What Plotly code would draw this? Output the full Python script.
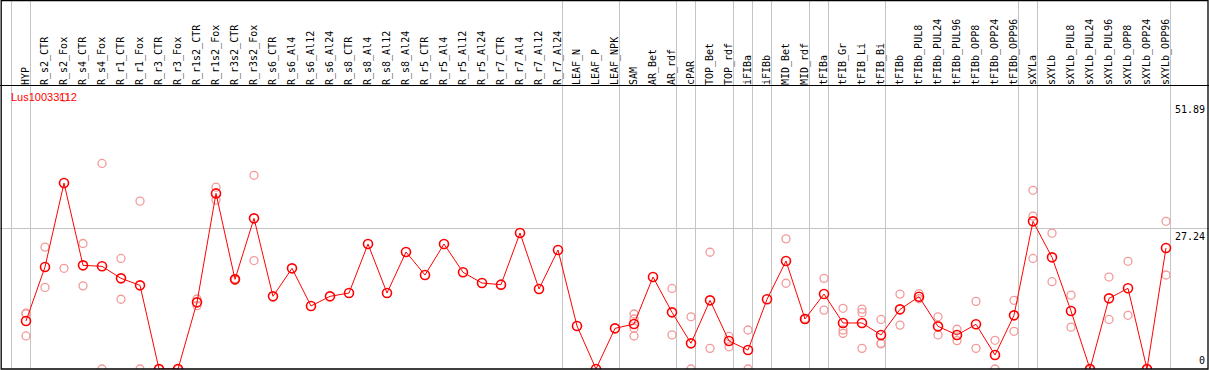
import plotly.graph_objects as go

W, H = 1209, 370

categories = [
    "HYP", "R_s2_CTR", "R_s2_Fox", "R_s4_CTR", "R_s4_Fox", "R_r1_CTR", "R_r1_Fox",
    "R_r3_CTR", "R_r3_Fox", "R_r1s2_CTR", "R_r1s2_Fox", "R_r3s2_CTR", "R_r3s2_Fox",
    "R_s6_CTR", "R_s6_Al4", "R_s6_Al12", "R_s6_Al24", "R_s8_CTR", "R_s8_Al4",
    "R_s8_Al12", "R_s8_Al24", "R_r5_CTR", "R_r5_Al4", "R_r5_Al12", "R_r5_Al24",
    "R_r7_CTR", "R_r7_Al4", "R_r7_Al12", "R_r7_Al24", "LEAF_N", "LEAF_P", "LEAF_NPK",
    "SAM", "AR_Bet", "AR_rdf", "cPAR", "TOP_Bet", "TOP_rdf", "iFIBa", "iFIBb",
    "MID_Bet", "MID_rdf", "tFIBa", "tFIB_Gr", "tFIB_Li", "tFIB_Bi", "tFIBb",
    "tFIBb_PUL8", "tFIBb_PUL24", "tFIBb_PUL96", "tFIBb_OPP8", "tFIBb_OPP24",
    "tFIBb_OPP96", "sXYLa", "sXYLb", "sXYLb_PUL8", "sXYLb_PUL24", "sXYLb_PUL96",
    "sXYLb_OPP8", "sXYLb_OPP24", "sXYLb_OPP96",
]

# group sizes (gray separators between groups)
group_sizes = [1, 28, 3, 3, 1, 2, 1, 1, 2, 1, 3, 7, 1, 7]

mean_values = [
    9.29, 19.75, 36.0, 20.07, 19.88, 17.55, 16.2, 0, 0, 12.9, 34.0, 17.36, 29.17,
    14.07, 19.49, 12.2, 14.07, 14.71, 24.2, 14.71, 22.65, 18.2, 24.2, 18.72, 16.65,
    16.33, 26.33, 15.49, 23.04, 8.33, 0, 7.87,
    8.71, 17.81, 10.97, 4.97, 13.29, 5.42, 3.68, 13.49, 20.91, 9.68, 14.52, 8.91,
    8.91, 6.58, 11.55, 14.0, 8.26, 6.58, 8.65, 2.71, 10.39, 28.59, 21.62, 11.23,
    0, 13.68, 15.62, 0, 23.43,
]

N = None
rep_a = [10.8, 23.6, 52.6, 24.3, 39.8, 21.4, 32.5, 0, 0, 13.55, 35.2, 17.5, 37.5,
         N, N, N, N, N, N, N, N, N, N, N, N, N, N, N, N, N, N, N,
         10.65, N, 15.6, 10.1, 22.6, 6.3, 7.55, N, 25.2, 9.8, 17.55, 11.75, 11.6,
         9.6, 14.5, 14.6, 10.1, 7.7, 13.1, 5.55, 13.3, 34.6, 26.3, 14.3, 0, 17.8,
         20.85, 0, 28.6]
rep_b = [10.7, 15.8, 19.5, 16.1, 0, 13.5, 0, 0, 0, 12.26, 32.7, 17.2, 21.0,
         N, N, N, N, N, N, N, N, N, N, N, N, N, N, N, N, N, N, N,
         9.68, N, 6.6, 0, 4.0, 4.3, 0, N, 16.6, 9.6, 11.4, 7.55, 10.9,
         5.0, 8.5, 13.6, 6.6, 5.5, 4.0, 0, 7.3, 29.6, 16.9, 8.1, 0, 9.6,
         10.4, 0, 18.2]
rep_c = [6.4, N, N, N, N, N, N, N, N, N, N, N, N,
         N, N, N, N, N, N, N, N, N, N, N, N, N, N, N, N, N, N, N,
         7.88, N, N, N, N, N, N, N, N, N, N, 6.9, 4.0,
         4.85, N, N, N, N, N, N, N, 21.4, N, N, N, N,
         N, N, N]
rep_d = [N] * 32 + [6.39] + [N] * 28

y_tick_values = [0, 27.24, 51.89]
y_tick_labels = ["0", "27.24", "51.89"]
gene_name = "Lus10033112"

# ---- geometry (pixel layout of the reference) ----
X0_PX, DX_PX = 26.0, 19.0          # first category centre and spacing
TOP_M, BOT_M = 86, 1               # header height and bottom margin
PX_PER_UNIT = 5.165
plot_h = H - TOP_M - BOT_M
x_range = [(0 - X0_PX) / DX_PX, (W - X0_PX) / DX_PX]
y_range = [0, plot_h / PX_PER_UNIT]


def py(ypx):  # pixel y (from top) -> paper y
    return (H - BOT_M - ypx) / plot_h


mono = "DejaVu Sans Mono"
grid_col = "#c4c4c4"
red = "#ff0000"
light = "#f19a9a"

xs = list(range(len(categories)))
fig = go.Figure()

for reps in (rep_a, rep_b, rep_c, rep_d):
    fig.add_trace(go.Scatter(
        x=xs, y=reps, mode="markers",
        marker=dict(symbol="circle-open", size=8, color=light, line=dict(width=1.3, color=light)),
        hoverinfo="skip", showlegend=False,
    ))

fig.add_trace(go.Scatter(
    x=xs, y=mean_values, mode="lines+markers",
    line=dict(color=red, width=1),
    marker=dict(symbol="circle-open", size=9, color=red, line=dict(width=1.6, color=red)),
    showlegend=False,
))

shapes = []
# group separators
bounds = [-1]
acc = -1
for g in group_sizes:
    acc += g
    bounds.append(acc)
off = 4.5 / DX_PX
for b in bounds:
    shapes.append(dict(type="line", xref="x", yref="paper", x0=b + off, x1=b + off,
                       y0=0, y1=py(0), line=dict(color=grid_col, width=1), layer="below"))
# header separator and frame
shapes.append(dict(type="line", xref="paper", yref="paper", x0=0, x1=1, y0=py(85.5), y1=py(85.5),
                   line=dict(color="black", width=1.2)))
shapes.append(dict(type="rect", xref="paper", yref="paper", x0=1.2 / W, x1=1208 / W,
                   y0=py(369), y1=py(0.5), line=dict(color="black", width=1.3)))

annotations = [dict(
    text=gene_name, xref="paper", yref="paper", x=9 / W, y=py(97.5),
    xanchor="left", yanchor="middle", showarrow=False,
    font=dict(family="Liberation Sans", size=11, color=red),
)]
for v, t in zip(y_tick_values, y_tick_labels):
    annotations.append(dict(
        text=t, xref="paper", yref="y", x=1207 / W, y=v,
        xanchor="right", yanchor="bottom" if v == 0 else "top",
        yshift=1 if v == 0 else -1, showarrow=False, bgcolor="white",
        font=dict(family=mono, size=10, color="black"),
    ))

fig.update_layout(
    width=W, height=H, margin=dict(l=0, r=0, t=TOP_M, b=BOT_M, pad=0),
    paper_bgcolor="white", plot_bgcolor="white",
    shapes=shapes, annotations=annotations, showlegend=False,
    xaxis=dict(range=x_range, side="top", tickmode="array", tickvals=xs, ticktext=categories,
               tickangle=-90, ticks="", showgrid=False, zeroline=False, showline=False,
               tickfont=dict(family=mono, size=10, color="black"), fixedrange=True),
    yaxis=dict(range=y_range, tickmode="array", tickvals=[y_tick_values[1]], showticklabels=False,
               showgrid=True, gridcolor=grid_col, gridwidth=1, zeroline=False, showline=False,
               fixedrange=True),
)

fig.write_html(
    "out.html",
    config={"displayModeBar": False},
    post_script="document.body.style.margin='0';document.body.style.overflow='hidden';",
)
